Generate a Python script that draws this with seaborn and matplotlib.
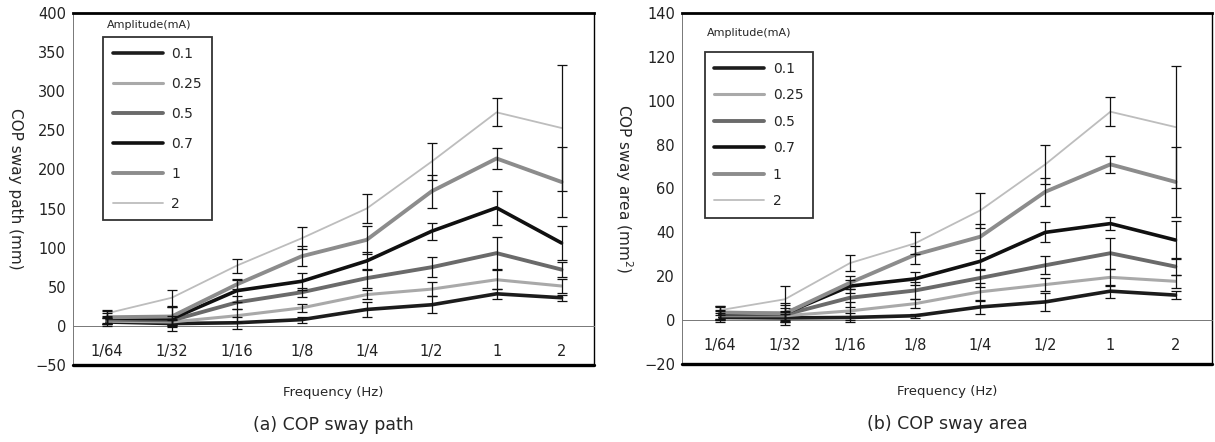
"""COP sway path / sway area vs. stimulation frequency, one line per amplitude."""

import matplotlib

matplotlib.use("Agg")
import matplotlib.pyplot as plt
from matplotlib.lines import Line2D
import pandas as pd
import seaborn as sns

# ---- data -----------------------------------------------------------------
FREQS = ["1/64", "1/32", "1/16", "1/8", "1/4", "1/2", "1", "2"]
AMPS = ["0.1", "0.25", "0.5", "0.7", "1", "2"]

# (a) COP sway path (mm): mean and error
path_01 = [5, 3, 4, 8, 21, 27, 41, 36]
path_01_err = [5, 5, 8, 4, 10, 11, 6, 4]
path_025 = [6, 5, 13, 23, 40, 47, 59, 51]
path_025_err = [4, 4, 8, 5, 6, 9, 12, 9]
path_05 = [8, 7, 30, 43, 61, 75, 93, 72]
path_05_err = [5, 6, 8, 6, 12, 13, 20, 10]
path_07 = [10, 9, 45, 57, 83, 121, 151, 106]
path_07_err = [6, 15, 15, 11, 12, 11, 22, 22]
path_1 = [11, 12, 53, 89, 110, 172, 214, 184]
path_1_err = [8, 12, 6, 13, 18, 21, 14, 45]
path_2 = [16, 36, 77, 112, 150, 210, 273, 253]
path_2_err = [4, 10, 9, 14, 18, 24, 18, 80]

# (b) COP sway area (mm^2): mean and error
area_01 = [1.2, 1.0, 1.2, 2.0, 6.0, 8.3, 13.2, 11.4]
area_01_err = [2, 2, 2, 1, 3, 4, 3, 2]
area_025 = [2.0, 2.0, 4.2, 7.5, 12.9, 16.2, 19.5, 17.7]
area_025_err = [2, 2, 4, 2, 4, 3, 4, 3]
area_05 = [2.5, 2.5, 10.2, 13.5, 19.2, 25.0, 30.5, 24.4]
area_05_err = [2, 3, 4, 4, 4, 4, 7, 4]
area_07 = [3.0, 3.0, 15.5, 18.8, 26.8, 40.0, 44.0, 36.5]
area_07_err = [3, 4, 3, 3, 4, 4.5, 3, 8.5]
area_1 = [3.5, 3.0, 17.0, 29.8, 38.0, 58.5, 71.0, 63.0]
area_1_err = [3, 5, 3, 4, 6, 6.5, 4, 16]
area_2 = [4.5, 9.5, 26.0, 35.0, 50.0, 71.0, 95.0, 88.0]
area_2_err = [2, 6, 3.5, 5, 8, 9, 6.5, 28]

# ---- styling ---------------------------------------------------------------
COLORS = {"0.1": "#1c1c1c", "0.25": "#a9a9a9", "0.5": "#6a6a6a",
          "0.7": "#101010", "1": "#8c8c8c", "2": "#bdbdbd"}
WIDTHS = {"0.1": 2.6, "0.25": 2.2, "0.5": 2.8, "0.7": 2.6, "1": 2.8, "2": 1.3}


def long_frame(series, errors):
    rows = []
    for amp, vals, errs in zip(AMPS, series, errors):
        for f, v, e in zip(FREQS, vals, errs):
            rows.append({"freq": f, "amp": amp, "value": v, "err": e})
    return pd.DataFrame(rows)


def draw_panel(ax, df, ylim, yticks, ylabel, caption, xlim,
               leg_anchor, leg_title_xy, leg_spacing):
    sns.lineplot(data=df, x="freq", y="value", hue="amp", size="amp",
                 palette=COLORS, sizes=WIDTHS, hue_order=AMPS, size_order=AMPS,
                 sort=False, legend=False, ax=ax, zorder=3)
    for amp in AMPS:
        sub = df[df["amp"] == amp]
        ax.errorbar(sub["freq"], sub["value"], yerr=sub["err"], fmt="none",
                    ecolor="#111111", elinewidth=0.9, capsize=3.5,
                    capthick=0.9, zorder=4)

    ax.set_xlim(*xlim)
    ax.set_ylim(*ylim)
    ax.set_yticks(yticks)
    ax.tick_params(axis="y", labelsize=10.5, length=3, width=0.6,
                   direction="out", pad=2, colors="#222222")

    # x axis runs along zero; the frame keeps its bottom edge at ylim[0]
    ax.spines["bottom"].set_position(("data", 0))
    ax.spines["bottom"].set_linewidth(0.7)
    ax.spines["bottom"].set_color("#777777")
    ax.spines["bottom"].set_linestyle((0, (2, 1)))
    ax.set_xticks(range(len(FREQS)))
    ax.set_xticklabels(FREQS)
    ax.set_xticks([i + 0.5 for i in range(len(FREQS) - 1)], minor=True)
    ax.tick_params(axis="x", which="major", length=0, pad=13, labelsize=10.5,
                   colors="#222222")
    ax.tick_params(axis="x", which="minor", length=3, width=0.6,
                   direction="out", color="#555555")
    ax.axhline(ylim[0], color="black", lw=2.4, clip_on=False, zorder=5)

    ax.spines["top"].set_linewidth(2.0)
    ax.spines["top"].set_color("black")
    ax.spines["right"].set_linewidth(1.0)
    ax.spines["right"].set_color("black")
    ax.spines["left"].set_linewidth(0.7)
    ax.spines["left"].set_color("#777777")
    ax.spines["left"].set_linestyle((0, (2, 1)))

    ax.set_xlabel("")
    ax.set_ylabel(ylabel, rotation=270, fontsize=11, va="center")
    ax.yaxis.set_label_coords(-0.11, 0.5)
    ax.text(0.5, -0.078, "Frequency (Hz)", transform=ax.transAxes,
            ha="center", va="center", fontsize=9.5)
    ax.text(0.5, -0.17, caption, transform=ax.transAxes,
            ha="center", va="center", fontsize=12.5)

    handles = [Line2D([], [], color=COLORS[a], lw=WIDTHS[a]) for a in AMPS]
    leg = ax.legend(handles, AMPS, loc="upper left", bbox_to_anchor=leg_anchor,
                    frameon=True, fancybox=False, fontsize=10,
                    handlelength=3.6, handletextpad=0.6,
                    labelspacing=leg_spacing, borderpad=0.7,
                    borderaxespad=0)
    leg.get_frame().set_edgecolor("black")
    leg.get_frame().set_linewidth(1.3)
    ax.text(*leg_title_xy, "Amplitude(mA)", transform=ax.transAxes,
            ha="left", va="center", fontsize=8)


sns.set_theme(style="white")
plt.rcParams["font.family"] = ["DejaVu Sans"]

fig = plt.figure(figsize=(12.15, 4.42), dpi=100)
ax_a = fig.add_axes([0.0601, 0.1742, 0.4288, 0.7964])
ax_b = fig.add_axes([0.5613, 0.1765, 0.4362, 0.7941])

path_df = long_frame([path_01, path_025, path_05, path_07, path_1, path_2],
                     [path_01_err, path_025_err, path_05_err, path_07_err,
                      path_1_err, path_2_err])
area_df = long_frame([area_01, area_025, area_05, area_07, area_1, area_2],
                     [area_01_err, area_025_err, area_05_err, area_07_err,
                      area_1_err, area_2_err])

draw_panel(ax_a, path_df, (-50, 400), range(-50, 401, 50),
           "COP sway path (mm)", "(a) COP sway path", (-0.52, 7.5),
           (0.058, 0.932), (0.065, 0.966), 1.15)
draw_panel(ax_b, area_df, (-20, 140), range(-20, 141, 20),
           "COP sway area (mm$^2$)", "(b) COP sway area", (-0.58, 7.56),
           (0.043, 0.889), (0.047, 0.943), 0.9)

fig.savefig("out.png", dpi=100)
plt.close(fig)
